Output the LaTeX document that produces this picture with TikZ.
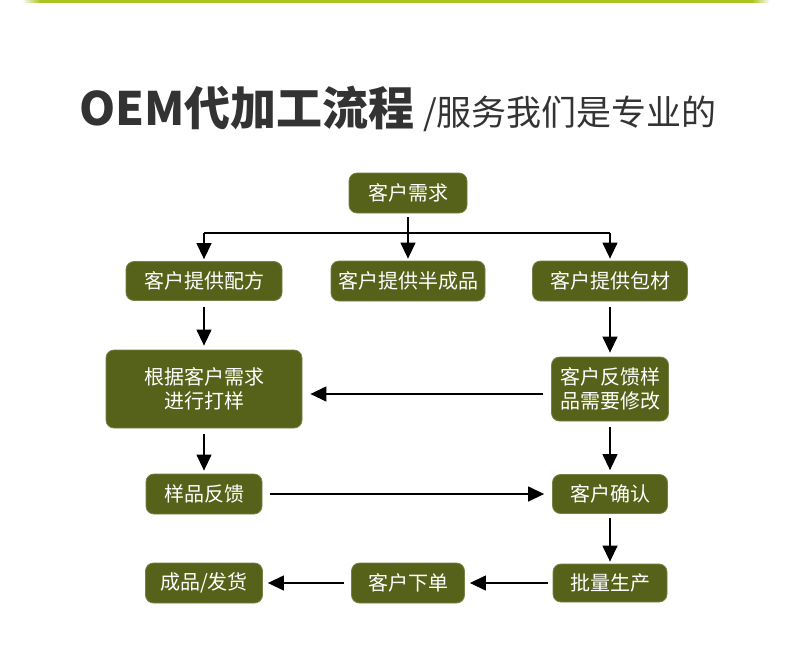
\documentclass[tikz,border=0pt]{standalone}
\usepackage{fontspec}
\setmainfont{Noto Sans CJK SC}
\usetikzlibrary{arrows.meta}
\definecolor{olivebox}{HTML}{566219}
\definecolor{topgreen}{HTML}{A8C520}
\definecolor{titlegray}{HTML}{333333}

\begin{document}
\begin{tikzpicture}[x=1pt,y=-1pt,
  box/.style={fill=olivebox, draw=olivebox!80!white, line width=0.8pt, rounded corners=8pt,
    text=white, align=center, inner sep=0pt, font=\fontsize{20}{24}\selectfont},
  flow/.style={line width=1.3pt, -{Triangle[width=15pt,length=16pt]}, shorten <=6pt, shorten >=4pt},
  plain/.style={line width=1.3pt}]
\useasboundingbox (0,0) rectangle (790,649);

% top rule and title
\shade[left color=white, right color=topgreen] (22,0) rectangle (40,2.5);
\fill[topgreen] (40,0) rectangle (752,2.5);
\shade[left color=topgreen, right color=white] (752,0) rectangle (770,2.5);
\node[anchor=base west, inner sep=0pt, text=titlegray, font=\fontsize{46}{50}\selectfont\bfseries] (title) at (79,125) {OEM代加工流程};
\node[anchor=base west, inner sep=0pt, text=titlegray, font=\fontsize{35}{40}\selectfont] (slogan) at ([xshift=8pt]title.base east) {/服务我们是专业的};

% boxes
\node[box, minimum width=118, minimum height=40] (need) at (408,193) {客户需求};
\node[box, minimum width=156, minimum height=39] (recipe) at (204,281) {客户提供配方};
\node[box, minimum width=154, minimum height=40] (semi) at (408,281) {客户提供半成品};
\node[box, minimum width=155, minimum height=40] (pack) at (610,281) {客户提供包材};
\node[box, minimum width=196, minimum height=78] (proof) at (204,389) {根据客户需求\\进行打样};
\node[box, minimum width=117, minimum height=64] (revise) at (610,389) {客户反馈样\\品需要修改};
\node[box, minimum width=116, minimum height=40] (feedback) at (204,494) {样品反馈};
\node[box, minimum width=115, minimum height=39] (confirm) at (610,494) {客户确认};
\node[box, minimum width=117, minimum height=40] (ship) at (204,583) {成品/发货};
\node[box, minimum width=113, minimum height=40] (order) at (408,583) {客户下单};
\node[box, minimum width=114, minimum height=38] (mass) at (610,583) {批量生产};

% branch below the first box
\coordinate (split) at (408,233);
\coordinate (splitL) at (204,233);
\coordinate (splitR) at (610,233);
\draw[plain, shorten <=4pt] (need.south) -- (split);
\draw[plain] (splitL) -- (splitR);
\draw[flow, shorten <=0pt, shorten >=2pt] (splitL) -- (recipe.north);
\draw[flow, shorten <=0pt, shorten >=2pt] (split) -- (semi.north);
\draw[flow, shorten <=0pt, shorten >=2pt] (splitR) -- (pack.north);

% flow
\draw[flow] (recipe) -- (proof);
\draw[flow] (pack) -- (revise);
\draw[flow, shorten <=8pt, shorten >=8pt] ([yshift=-5pt]revise.west) -- ([yshift=-5pt]proof.east);
\draw[flow, shorten >=3pt] (proof) -- (feedback);
\draw[flow] (revise) -- (confirm);
\draw[flow, shorten <=8pt, shorten >=8pt] (feedback) -- (confirm);
\draw[flow, shorten <=4pt, shorten >=2pt] (confirm) -- (mass);
\draw[flow, shorten <=5pt, shorten >=5pt] (mass) -- (order);
\draw[flow, shorten <=7pt, shorten >=5pt] (order) -- (ship);
\end{tikzpicture}
\end{document}
